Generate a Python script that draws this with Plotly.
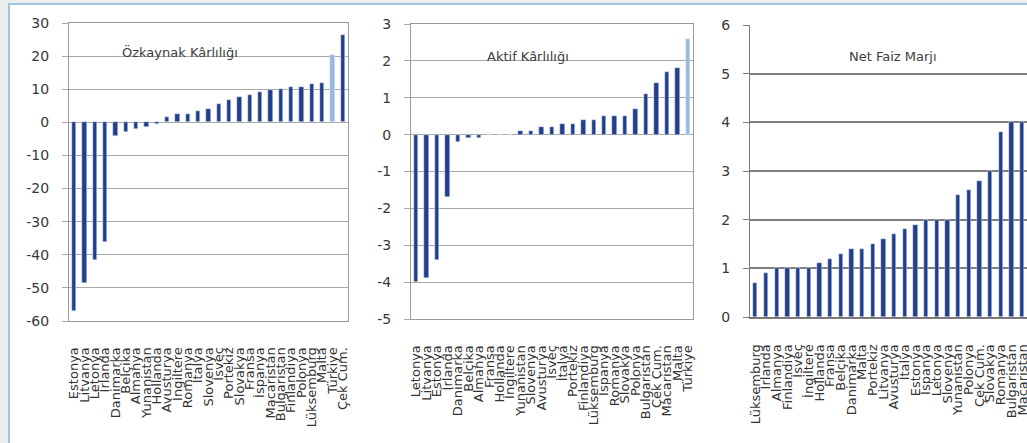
import plotly.graph_objects as go

# --- Özkaynak Kârlılığı (return on equity, %) ---
roe_countries = ["Estonya", "Litvanya", "Letonya", "İrlanda", "Danimarka", "Belçika",
                 "Almanya", "Yunanistan", "Hollanda", "Avusturya", "İngiltere", "Romanya",
                 "İtalya", "Slovenya", "İsveç", "Portekiz", "Slovakya", "Fransa", "İspanya",
                 "Macaristan", "Bulgaristan", "Finlandiya", "Polonya", "Lüksemburg", "Malta",
                 "Türkiye", "Çek Cum."]
roe_values = [-57, -48.5, -41.5, -36, -4, -2.8, -1.9, -1.5, -0.4, 1.5, 2.5, 2.6,
              3.5, 3.9, 5.4, 6.6, 7.6, 8.2, 9.3, 9.9, 10.2, 10.7, 10.7, 11.5, 12.0,
              20.3, 26.5]
roe_ticks = [-60, -50, -40, -30, -20, -10, 0, 10, 20, 30]

# --- Aktif Kârlılığı (return on assets, %) ---
roa_countries = ["Letonya", "Litvanya", "Estonya", "İrlanda", "Danimarka", "Belçika",
                 "Almanya", "Fransa", "Hollanda", "İngiltere", "Yunanistan", "Slovenya",
                 "Avusturya", "İsveç", "İtalya", "Portekiz", "Finlandiya", "Lüksemburg",
                 "İspanya", "Romanya", "Slovakya", "Polonya", "Bulgaristan", "Çek Cum.",
                 "Macaristan", "Malta", "Türkiye"]
roa_values = [-4.0, -3.9, -3.4, -1.7, -0.2, -0.1, -0.1, 0.0, 0.0, 0.0, 0.1, 0.1,
              0.2, 0.2, 0.3, 0.3, 0.4, 0.4, 0.5, 0.5, 0.5, 0.7, 1.1, 1.4, 1.7, 1.8, 2.6]
roa_ticks = [-5, -4, -3, -2, -1, 0, 1, 2, 3]

# --- Net Faiz Marjı (net interest margin, %) ---
nim_countries = ["Lüksemburg", "İrlanda", "Almanya", "Finlandiya", "İsveç", "İngiltere",
                 "Hollanda", "Fransa", "Belçika", "Danimarka", "Malta", "Portekiz",
                 "Litvanya", "Avusturya", "İtalya", "Estonya", "İspanya", "Letonya",
                 "Slovenya", "Yunanistan", "Polonya", "Çek Cum.", "Slovakya", "Romanya",
                 "Bulgaristan", "Macaristan"]
nim_values = [0.7, 0.9, 1.0, 1.0, 1.0, 1.0, 1.1, 1.2, 1.3, 1.4, 1.4, 1.5, 1.6, 1.7,
              1.8, 1.9, 2.0, 2.0, 2.0, 2.5, 2.6, 2.8, 3.0, 3.8, 4.0, 4.0]
nim_ticks = [0, 1, 2, 3, 4, 5, 6]

DARK = "#233f8b"
LIGHT = "#95b9df"
W, H = 1027, 443


def bar_colors(names):
    return [LIGHT if n == "Türkiye" else DARK for n in names]


def px_x(a, b):
    return [a / W, b / W]


def px_y(top, bottom):
    return [1 - bottom / H, 1 - top / H]


def hyphen_ticks(vals):
    # plain hyphen-minus labels rather than the typographic minus sign
    return dict(tickmode="array", tickvals=vals, ticktext=[str(v) for v in vals])


fig = go.Figure()
fig.add_trace(go.Bar(x=roe_countries, y=roe_values, marker_color=bar_colors(roe_countries),
                     width=0.45, xaxis="x", yaxis="y"))
fig.add_trace(go.Bar(x=roa_countries, y=roa_values, marker_color=bar_colors(roa_countries),
                     width=0.42, xaxis="x2", yaxis="y2"))
fig.add_trace(go.Bar(x=nim_countries, y=nim_values, marker_color=bar_colors(nim_countries),
                     width=0.4, xaxis="x3", yaxis="y3"))

tick_font = dict(family="DejaVu Sans", size=14, color="#383838")
cat_font = dict(family="DejaVu Sans", size=13, color="#333333")
title_font = dict(family="DejaVu Sans", size=13, color="#404040")

xcommon = dict(type="category", tickangle=-90, tickfont=cat_font, showgrid=False,
               ticks="", ticklabelstandoff=20, tickmode="linear", dtick=1,
               fixedrange=True, automargin=False)
ycommon = dict(tickfont=tick_font, ticks="outside", ticklen=6, zeroline=False,
               ticklabelstandoff=10, fixedrange=True, automargin=False)

fig.update_layout(
    width=W, height=H,
    margin=dict(l=0, r=0, t=0, b=0),
    paper_bgcolor="#ebecec",
    plot_bgcolor="rgba(0,0,0,0)",
    showlegend=False,
    bargap=0,
    xaxis=dict(domain=px_x(69, 348), anchor="y", range=[-0.5, 26.5],
               showline=True, linecolor="#9a9a9a", mirror=True, **xcommon),
    yaxis=dict(domain=px_y(23, 321), anchor="x", range=[-60, 30], **hyphen_ticks(roe_ticks),
               showgrid=True, gridcolor="#a8a8a8", gridwidth=1, tickcolor="#a8a8a8",
               showline=True, linecolor="#9a9a9a", mirror=True, **ycommon),
    xaxis2=dict(domain=px_x(411, 693), anchor="y2", range=[-0.5, 26.5],
                showline=True, linecolor="#9a9a9a", mirror=True, **xcommon),
    yaxis2=dict(domain=px_y(24, 319), anchor="x2", range=[-5, 3], **hyphen_ticks(roa_ticks),
                showgrid=True, gridcolor="#a8a8a8", gridwidth=1, tickcolor="#a8a8a8",
                showline=True, linecolor="#9a9a9a", mirror=True, **ycommon),
    xaxis3=dict(domain=[750 / W, 1.0], anchor="y3", range=[-0.5, 25.44],
                showline=True, linecolor="#7a7a7a", linewidth=2, **xcommon),
    yaxis3=dict(domain=px_y(25, 317), anchor="x3", range=[0, 6], **hyphen_ticks(nim_ticks),
                showgrid=True, gridcolor="#7f7f7f", gridwidth=2, tickcolor="#7f7f7f",
                showline=True, linecolor="#7a7a7a", linewidth=1, **ycommon),
    shapes=[
        # white card with a light blue edge behind the three panels
        dict(type="rect", xref="paper", yref="paper", layer="below",
             x0=9 / W, x1=1.2, y0=-0.2, y1=1 - 4 / H,
             fillcolor="white", line=dict(color="#a2c4e8", width=2)),
    ],
    annotations=[
        dict(text="Özkaynak Kârlılığı", x=180 / W, y=1 - 52 / H),
        dict(text="Aktif Kârlılığı", x=528 / W, y=1 - 56 / H),
        dict(text="Net Faiz Marjı", x=893 / W, y=1 - 56 / H),
    ],
)
fig.update_annotations(xref="paper", yref="paper", xanchor="center", yanchor="middle",
                       showarrow=False, font=title_font)

fig.write_html("out.html", config={"displayModeBar": False})
